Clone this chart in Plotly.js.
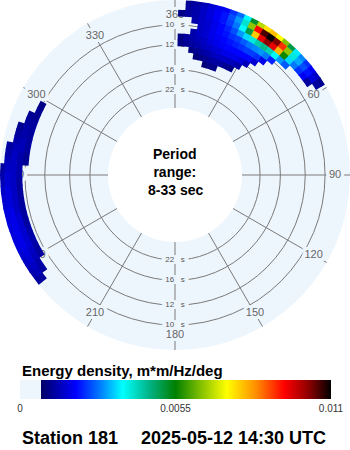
<!DOCTYPE html>
<html><head><meta charset="utf-8">
<script src="https://cdn.plot.ly/plotly-3.0.1.min.js"></script>
<style>html,body{margin:0;padding:0;background:#fff;}#chart{width:350px;height:450px;}</style>
</head><body><div id="chart"></div>
<script>
// ---- data ----
// frequency band centres (Hz); the radius of the plot is frequency
const freqBands = [0.070, 0.075, 0.080, 0.085, 0.090, 0.095, 0.100, 0.105, 0.110, 0.115, 0.120];
const bandWidth = 0.005;
const dirStep = 2.5;
// energy density in 1e-3 m*m/Hz/deg; rows = direction (deg), cols = freqBands
const dirNE = [2.5, 5, 7.5, 10, 12.5, 15, 17.5, 20, 22.5, 25, 27.5, 30, 32.5, 35, 37.5, 40, 42.5, 45, 47.5, 50, 52.5, 55, 57.5];
const energyNE = [
  [0,   0,   0,   1.0, 1.0, 0,   0,   0,   1.0, 0,    0  ],
  [0,   0,   0,   1.1, 1.2, 0,   0,   0,   1.2, 1.2,  1.1],
  [0,   0,   1.0, 1.2, 1.3, 1.3, 0,   1.3, 1.3, 1.3,  1.2],
  [0,   0.9, 1.1, 1.3, 1.4, 1.5, 1.5, 1.5, 1.5, 1.5,  1.4],
  [0,   1.0, 1.2, 1.4, 1.5, 1.6, 1.6, 1.6, 1.7, 1.7,  1.6],
  [0.9, 1.1, 1.3, 1.5, 1.7, 1.8, 1.8, 1.8, 1.9, 1.9,  1.8],
  [1.0, 1.2, 1.4, 1.6, 1.8, 1.9, 2.0, 2.0, 2.1, 2.1,  1.9],
  [1.0, 1.2, 1.5, 1.7, 1.9, 2.0, 2.1, 2.2, 2.4, 2.5,  2.3],
  [0,   1.2, 1.5, 1.8, 2.0, 2.1, 2.3, 2.5, 2.8, 3.0,  2.7],
  [0,   1.1, 1.5, 1.8, 2.0, 2.2, 2.4, 3.0, 3.6, 4.0,  3.6],
  [0,   1.0, 1.4, 1.8, 2.0, 2.3, 2.6, 3.4, 5.0, 6.5,  5.2],
  [0,   0,   1.3, 1.7, 2.0, 2.4, 2.8, 3.9, 7.8, 9.3,  6.8],
  [0,   0,   0,   1.4, 2.0, 2.4, 2.9, 4.3, 9.5, 10.6, 7.6],
  [0,   0,   0,   0,   1.6, 2.3, 3.0, 4.5, 10.2, 11.0, 7.9],
  [0,   0,   0,   0,   0,   1.8, 2.8, 4.2, 9.5, 10.3, 7.3],
  [0,   0,   0,   0,   0,   0,   2.2, 3.6, 8.0, 9.0,  6.4],
  [0,   0,   0,   0,   0,   0,   0,   3.0, 5.6, 6.5,  5.0],
  [0,   0,   0,   0,   0,   0,   0,   2.6, 3.4, 3.9,  3.5],
  [0,   0,   0,   0,   0,   0,   0,   0,   2.8, 3.1,  2.9],
  [0,   0,   0,   0,   0,   0,   0,   0,   2.3, 2.5,  2.3],
  [0,   0,   0,   0,   0,   0,   0,   0,   1.9, 2.1,  1.9],
  [0,   0,   0,   0,   0,   0,   0,   0,   1.2, 1.7,  1.5],
  [0,   0,   0,   0,   0,   0,   0,   0,   0,   1.2,  1.1]
];
// western swell: cols = last five freqBands (0.100 ... 0.120 Hz)
const dirW = [232.5, 235, 237.5, 240, 242.5, 245, 247.5, 250, 252.5, 255, 257.5, 260, 262.5, 265, 267.5, 270,
              272.5, 275, 277.5, 280, 282.5, 285, 287.5, 290, 292.5, 295, 297.5];
const energyW = [
  [0,   0,   0,   1.2, 1.2],
  [0,   0,   1.2, 1.4, 1.3],
  [0,   0,   1.3, 1.5, 1.4],
  [0,   1.2, 1.4, 1.6, 1.5],
  [0,   1.2, 1.5, 1.7, 1.6],
  [0,   1.3, 1.6, 1.8, 1.7],
  [0,   1.3, 1.6, 1.8, 1.7],
  [0,   1.3, 1.6, 1.8, 1.7],
  [0,   1.2, 1.6, 1.8, 1.7],
  [0,   1.2, 1.6, 1.8, 1.7],
  [0,   1.2, 1.5, 1.8, 1.7],
  [0,   1.2, 1.5, 1.7, 1.6],
  [0,   1.2, 1.5, 1.7, 1.6],
  [0,   1.2, 1.5, 1.7, 1.5],
  [0,   1.2, 1.5, 1.6, 1.4],
  [0,   1.3, 1.5, 1.6, 1.3],
  [0,   1.3, 1.5, 1.5, 1.2],
  [1.1, 1.3, 1.5, 1.4, 0  ],
  [1.1, 1.3, 1.5, 1.3, 0  ],
  [1.2, 1.4, 1.4, 1.2, 0  ],
  [1.2, 1.4, 1.3, 0,   0  ],
  [1.2, 1.3, 1.2, 0,   0  ],
  [1.2, 1.3, 1.1, 0,   0  ],
  [1.2, 1.2, 0,   0,   0  ],
  [1.1, 1.1, 0,   0,   0  ],
  [1.1, 0,   0,   0,   0  ],
  [1.0, 0,   0,   0,   0  ]
];
const freqW = freqBands.slice(6);
const angleTicks = [0, 30, 60, 90, 120, 150, 180, 210, 240, 270, 300, 330];
const angleLabels = ['360', '30', '60', '90', '120', '150', '180', '210', '240', '270', '300', '330'];
const ringPeriods = [10, 12, 16, 22];
const ringLabels = ['10\u00a0\u00a0\u00a0s', '12\u00a0\u00a0\u00a0s', '16\u00a0\u00a0\u00a0s', '22\u00a0\u00a0\u00a0s'];
const cbTicks = [0, 0.0055, 0.011];
const cbTickText = ['0', '0.0055', '0.011'];
const periodMin = 8.27, periodMax = 33;

// ---- styling ----
const BG = '#EEF6FD';
const GRID = '#7a7a7a';
const FONT = 'Liberation Sans, Arial, sans-serif';
function halo(hx, hy) {
  const s = [];
  for (let dx = -hx; dx <= hx; dx++) for (let dy = -hy; dy <= hy; dy++) {
    if (dx || dy) s.push(dx + 'px ' + dy + 'px 0 ' + BG);
  }
  return s.join(', ');
}
const colorscale = [
  [0, BG], [0.066, BG], [0.067, '#000066'], [0.18, '#0000FF'], [0.26, '#0080FF'],
  [0.33, '#00FFFF'], [0.42, '#00B080'], [0.50, '#008000'], [0.58, '#80BF00'],
  [0.665, '#FFFF00'], [0.76, '#FF8C00'], [0.85, '#FF0000'], [0.93, '#8B0000'], [1, '#000000']
];

// ---- build cells ----
const cTheta = [], cBase = [], cLen = [], cVal = [];
const ov = 0.0003;
function addCells(dirs, freqs, mat) {
  dirs.forEach((d, i) => {
    mat[i].forEach((v, j) => {
      if (v > 0) {
        cTheta.push(d);
        cBase.push(freqs[j] - bandWidth / 2 - ov);
        cLen.push(bandWidth + 2 * ov);
        cVal.push(v / 1000);
      }
    });
  });
}
addCells(dirNE, freqBands, energyNE);
addCells(dirW, freqW, energyW);

const rRange = [1 / periodMax, 1 / periodMin];
const hole = 0.383;
const labelR = 0.1084;

const traces = [
  {
    type: 'scatterpolar', subplot: 'polar', mode: 'text',
    r: angleTicks.map(() => labelR), theta: angleTicks, text: angleLabels,
    textposition: 'middle center', hoverinfo: 'skip',
    textfont: { family: FONT, size: 11, color: '#666', shadow: halo(3, 3) }
  },
  {
    type: 'scatterpolar', subplot: 'polar', mode: 'text',
    r: ringPeriods.concat(ringPeriods).map(p => 1 / p),
    theta: ringPeriods.map(() => 0).concat(ringPeriods.map(() => 180)),
    text: ringLabels.concat(ringLabels),
    textposition: 'middle center', hoverinfo: 'skip',
    textfont: { family: FONT, size: 8, color: '#555', shadow: halo(4, 2) }
  },
  {
    type: 'barpolar', subplot: 'polar2',
    theta: cTheta, base: cBase, r: cLen, width: dirStep + 0.3,
    marker: {
      color: cVal, colorscale: colorscale, cmin: 0, cmax: 0.011,
      line: { width: 0 }, showscale: true,
      colorbar: {
        orientation: 'h', x: 175.5 / 350, xanchor: 'center', y: 1 - 380 / 450, yanchor: 'top',
        len: 311, lenmode: 'pixels', thickness: 19, thicknessmode: 'pixels',
        xpad: 0, ypad: 0, outlinewidth: 0, borderwidth: 0,
        tickvals: cbTicks, ticktext: cbTickText, ticks: '',
        tickfont: { family: FONT, size: 10, color: '#333' }
      }
    },
    hoverinfo: 'skip'
  }
];

const domain = { x: [0, 1], y: [100 / 450, 1] };

const layout = {
  width: 350, height: 450,
  margin: { l: 0, r: 0, t: 0, b: 0 },
  paper_bgcolor: '#fff',
  showlegend: false,
  polar: {
    domain: domain, hole: hole, bgcolor: BG,
    angularaxis: {
      rotation: 90, direction: 'clockwise', tickmode: 'array', tickvals: angleTicks,
      showticklabels: false, ticks: '', showgrid: true, gridcolor: GRID, gridwidth: 1, showline: false
    },
    radialaxis: {
      range: rRange, tickmode: 'array', tickvals: ringPeriods.map(p => 1 / p),
      showticklabels: false, ticks: '', showgrid: true, gridcolor: GRID, gridwidth: 1, showline: false
    }
  },
  polar2: {
    domain: domain, hole: hole, bgcolor: 'rgba(0,0,0,0)',
    angularaxis: { rotation: 90, direction: 'clockwise', visible: false },
    radialaxis: { range: rRange, visible: false }
  },
  annotations: [
    { text: '<b>Period<br>range:</b>', x: 175 / 350, y: 1 - 162.5 / 450, xref: 'paper', yref: 'paper',
      showarrow: false, xanchor: 'center', yanchor: 'middle', font: { family: FONT, size: 14, color: '#000' } },
    { text: '<b>8-33 sec</b>', x: 175 / 350, y: 1 - 190 / 450, xref: 'paper', yref: 'paper',
      showarrow: false, xanchor: 'center', yanchor: 'middle', font: { family: FONT, size: 14, color: '#000' } },
    { text: '<b>Energy density, m*m/Hz/deg</b>', x: 20 / 350, y: 1 - 370 / 450, xref: 'paper', yref: 'paper',
      showarrow: false, xanchor: 'left', yanchor: 'middle', font: { family: FONT, size: 15, color: '#000' } },
    { text: '<b>Station 181</b>', x: 20 / 350, y: 1 - 438 / 450, xref: 'paper', yref: 'paper',
      showarrow: false, xanchor: 'left', yanchor: 'middle', font: { family: FONT, size: 18, color: '#000' } },
    { text: '<b>2025-05-12 14:30 UTC</b>', x: 139 / 350, y: 1 - 438 / 450, xref: 'paper', yref: 'paper',
      showarrow: false, xanchor: 'left', yanchor: 'middle', font: { family: FONT, size: 18, color: '#000' } }
  ]
};

Plotly.newPlot('chart', traces, layout, { staticPlot: true, displayModeBar: false });
</script>
</body></html>
